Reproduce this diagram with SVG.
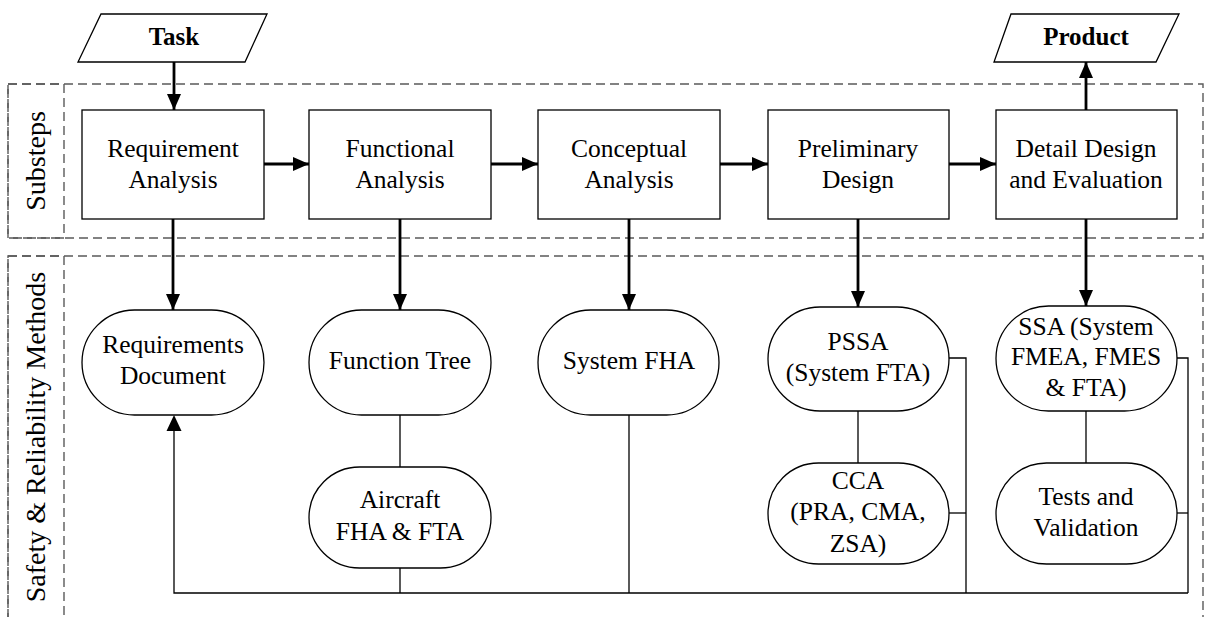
<svg xmlns="http://www.w3.org/2000/svg" width="1206" height="617" viewBox="0 0 1206 617">
<style>
  text { font-family: 'Liberation Serif', 'Times New Roman', Tinos, 'DejaVu Serif', serif; fill: #000; }
  .t { font-size: 25.5px; text-anchor: middle; }
  .b { font-size: 25px; font-weight: bold; text-anchor: middle; }
  .v { font-size: 28px; text-anchor: middle; }
  .box { fill: #fff; stroke: #000; stroke-width: 1.3; }
  .dash { fill: none; stroke: #5a5a5a; stroke-width: 1.4; stroke-dasharray: 9 5; }
  .arrow { fill: none; stroke: #000; stroke-width: 2.8; marker-end: url(#ah); }
  .thin { fill: none; stroke: #000; stroke-width: 1.3; }
</style>
<defs>
  <marker id="ah" viewBox="0 0 16 14" refX="16" refY="7" markerWidth="16" markerHeight="14" markerUnits="userSpaceOnUse" orient="auto">
    <path d="M0,0 L16,7 L0,14 z" fill="#000"/>
  </marker>
</defs>
<rect width="1206" height="617" fill="#fff"/>

<g id="lanes">
  <rect class="dash" x="8" y="84" width="1195" height="154"/>
  <rect class="dash" x="8" y="84" width="56" height="154"/>
  <text class="v" font-family="Liberation Serif, serif" transform="translate(45,161) rotate(-90)">Substeps</text>
  <rect class="dash" x="8" y="256" width="1195" height="400"/>
  <rect class="dash" x="8" y="256" width="56" height="400"/>
  <text class="v" font-family="Liberation Serif, serif" transform="translate(45,437) rotate(-90)">Safety &amp; Reliability Methods</text>
</g>

<g id="connectors">
  <path class="arrow" d="M174,62 V110"/>
  <path class="arrow" d="M1086,110 V62"/>
  <path class="arrow" d="M264,164 H309"/>
  <path class="arrow" d="M491,164 H538"/>
  <path class="arrow" d="M720,164 H768"/>
  <path class="arrow" d="M949,164 H996"/>
  <path class="arrow" d="M173,219 V310"/>
  <path class="arrow" d="M400,219 V310"/>
  <path class="arrow" d="M629,219 V310"/>
  <path class="arrow" d="M858,219 V307"/>
  <path class="arrow" d="M1086,219 V306"/>
  <path class="thin" d="M400,415 V467"/>
  <path class="thin" d="M400,568 V593"/>
  <path class="thin" d="M629,415 V593"/>
  <path class="thin" d="M858,411 V463"/>
  <path class="thin" d="M1086,411 V463"/>
  <path class="thin" d="M949,358 H966 V593"/>
  <path class="thin" d="M949,513 H966"/>
  <path class="thin" d="M1177,358 H1188 V593"/>
  <path class="thin" d="M1177,513 H1188"/>
  <path class="thin" d="M1188,593 H174 V425"/>
  <path d="M166.5,431 L174,415 L181.5,431 z" fill="#000"/>
</g>

<g id="task">
  <polygon class="box" points="101,14 267,14 245,62 78,62"/>
  <text class="b" x="174" y="45">Task</text>
</g>
<g id="product">
  <polygon class="box" points="1011,14 1179,14 1156,62 994,62"/>
  <text class="b" x="1086" y="45">Product</text>
</g>

<g id="req-analysis">
  <rect class="box" x="82" y="110" width="182" height="109"/>
  <text class="t" x="173" y="157">Requirement</text>
  <text class="t" x="173" y="188">Analysis</text>
</g>
<g id="func-analysis">
  <rect class="box" x="309" y="110" width="182" height="109"/>
  <text class="t" x="400" y="157">Functional</text>
  <text class="t" x="400" y="188">Analysis</text>
</g>
<g id="concept-analysis">
  <rect class="box" x="538" y="110" width="182" height="109"/>
  <text class="t" x="629" y="157">Conceptual</text>
  <text class="t" x="629" y="188">Analysis</text>
</g>
<g id="prelim-design">
  <rect class="box" x="768" y="110" width="181" height="109"/>
  <text class="t" x="858" y="157">Preliminary</text>
  <text class="t" x="858" y="188">Design</text>
</g>
<g id="detail-design">
  <rect class="box" x="996" y="110" width="181" height="109"/>
  <text class="t" x="1086" y="157">Detail Design</text>
  <text class="t" x="1086" y="188">and Evaluation</text>
</g>

<g id="req-doc">
  <rect class="box" x="82" y="310" width="182" height="105" rx="52.5"/>
  <text class="t" x="173" y="353">Requirements</text>
  <text class="t" x="173" y="384">Document</text>
</g>
<g id="function-tree">
  <rect class="box" x="309" y="310" width="182" height="105" rx="52.5"/>
  <text class="t" x="400" y="369">Function Tree</text>
</g>
<g id="system-fha">
  <rect class="box" x="538" y="310" width="181" height="105" rx="52.5"/>
  <text class="t" x="629" y="369">System FHA</text>
</g>
<g id="pssa">
  <rect class="box" x="768" y="307" width="181" height="104" rx="52"/>
  <text class="t" x="858" y="350">PSSA</text>
  <text class="t" x="858" y="381">(System FTA)</text>
</g>
<g id="ssa">
  <rect class="box" x="996" y="306" width="181" height="105" rx="52.5"/>
  <text class="t" x="1086" y="335">SSA (System</text>
  <text class="t" x="1086" y="365">FMEA, FMES</text>
  <text class="t" x="1086" y="396">&amp; FTA)</text>
</g>
<g id="aircraft-fha">
  <rect class="box" x="309" y="467" width="182" height="101" rx="50.5"/>
  <text class="t" x="400" y="508">Aircraft</text>
  <text class="t" x="400" y="540">FHA &amp; FTA</text>
</g>
<g id="cca">
  <rect class="box" x="768" y="463" width="181" height="101" rx="50.5"/>
  <text class="t" x="858" y="489">CCA</text>
  <text class="t" x="858" y="520">(PRA, CMA,</text>
  <text class="t" x="858" y="552">ZSA)</text>
</g>
<g id="tests">
  <rect class="box" x="996" y="463" width="181" height="101" rx="50.5"/>
  <text class="t" x="1086" y="505">Tests and</text>
  <text class="t" x="1086" y="536">Validation</text>
</g>
</svg>
